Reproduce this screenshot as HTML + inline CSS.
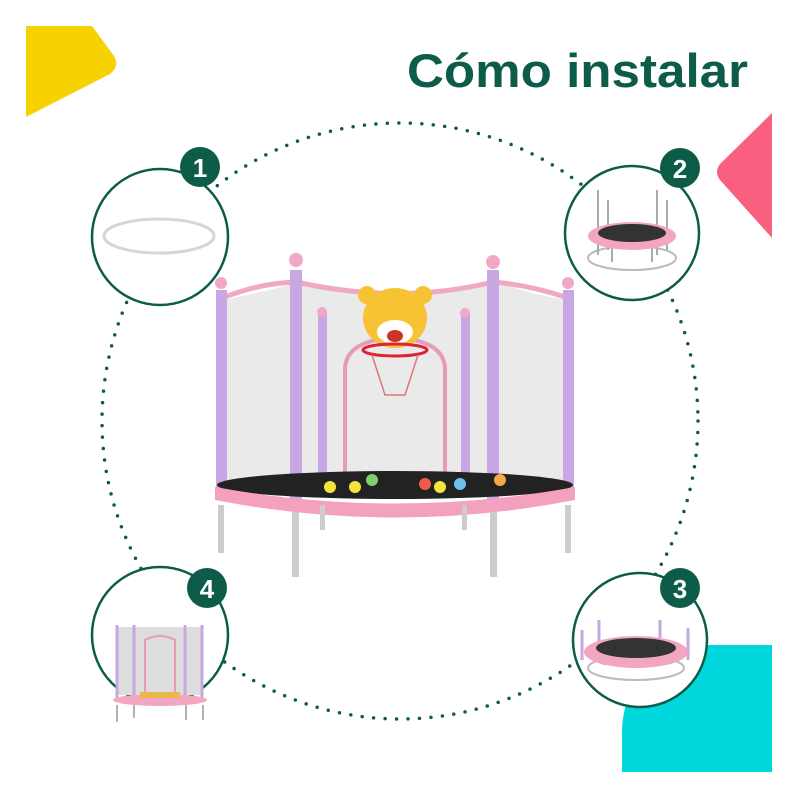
<!DOCTYPE html>
<html><head><meta charset="utf-8"><style>
html,body{margin:0;padding:0;background:#fff;width:800px;height:800px;overflow:hidden}
svg{display:block}
</style></head><body>
<svg width="800" height="800" viewBox="0 0 800 800" xmlns="http://www.w3.org/2000/svg">
<rect width="800" height="800" fill="#fff"/>
<!-- decorative shapes -->
<path d="M26 26 L92 26 L114 56 Q120 66 110 74 L26 117 Z" fill="#f7d200"/>
<path d="M772 113 L772 238 L720 180 Q714 172 720 164 Z" fill="#f9607f"/>
<path d="M622 772 V732 C622 682 660 645 708 645 H772 V772 Z" fill="#00d7dd"/>
<!-- title -->
<text x="407" y="87" textLength="341" lengthAdjust="spacingAndGlyphs" font-family="Liberation Sans, sans-serif" font-weight="bold" font-size="47" fill="#0d5c4a">Cómo instalar</text>
<!-- dotted circle -->
<circle cx="400" cy="421" r="298" fill="none" stroke="#0d5c4a" stroke-width="3.5" stroke-dasharray="0 11.5" stroke-linecap="round"/>
<!-- small circles -->
<g fill="#fff" stroke="#0d5c4a" stroke-width="2.5">
<circle cx="160" cy="237" r="68"/>
<circle cx="632" cy="233" r="67"/>
<circle cx="160" cy="635" r="68"/>
<circle cx="640" cy="640" r="67"/>
</g>
<!-- ring in circle 1 -->
<ellipse cx="159" cy="236" rx="55" ry="17" fill="none" stroke="#d6d6d6" stroke-width="3"/>
<!-- circle 2 trampoline -->
<g>
<ellipse cx="632" cy="258" rx="44" ry="12" fill="none" stroke="#bbb" stroke-width="2"/>
<g stroke="#aaa" stroke-width="2"><line x1="598" y1="190" x2="598" y2="255"/><line x1="608" y1="200" x2="608" y2="250"/><line x1="657" y1="190" x2="657" y2="255"/><line x1="667" y1="200" x2="667" y2="250"/><line x1="612" y1="248" x2="612" y2="262"/><line x1="652" y1="248" x2="652" y2="262"/></g>
<ellipse cx="632" cy="236" rx="44" ry="14" fill="#f2a6c2"/>
<ellipse cx="632" cy="233" rx="34" ry="9" fill="#333"/>
</g>
<!-- circle 3 trampoline -->
<g>
<ellipse cx="636" cy="668" rx="48" ry="12" fill="none" stroke="#bbb" stroke-width="2"/>
<g stroke="#c6a8e0" stroke-width="3"><line x1="582" y1="630" x2="582" y2="660"/><line x1="599" y1="620" x2="599" y2="645"/><line x1="660" y1="620" x2="660" y2="645"/><line x1="688" y1="628" x2="688" y2="660"/><line x1="604" y1="640" x2="604" y2="665"/><line x1="665" y1="640" x2="665" y2="665"/></g>
<ellipse cx="636" cy="652" rx="52" ry="16" fill="#f2a6c2"/>
<ellipse cx="636" cy="648" rx="40" ry="10" fill="#333"/>
</g>
<!-- circle 4 trampoline -->
<g>
<rect x="117" y="627" width="85" height="68" fill="#ddd"/>
<g stroke="#c6a8e0" stroke-width="3"><line x1="117" y1="625" x2="117" y2="700"/><line x1="134" y1="625" x2="134" y2="700"/><line x1="185" y1="625" x2="185" y2="700"/><line x1="202" y1="625" x2="202" y2="700"/></g>
<path d="M145 700 V640 Q160 632 175 640 V700" fill="none" stroke="#e79bb7" stroke-width="2"/>
<ellipse cx="160" cy="700" rx="47" ry="6" fill="#f2a6c2"/>
<rect x="140" y="692" width="40" height="6" fill="#e6b94a"/>
<g stroke="#999" stroke-width="1.5"><line x1="117" y1="705" x2="117" y2="722"/><line x1="134" y1="705" x2="134" y2="718"/><line x1="186" y1="705" x2="186" y2="720"/><line x1="203" y1="705" x2="203" y2="720"/></g>
</g>
<!-- badges -->
<g fill="#0d5c4a">
<circle cx="200" cy="167" r="20"/><circle cx="680" cy="168" r="20"/><circle cx="680" cy="588" r="20"/><circle cx="207" cy="588" r="20"/>
</g>
<g font-family="Liberation Sans, sans-serif" font-weight="bold" font-size="26" fill="#fff" text-anchor="middle">
<text x="200" y="177">1</text><text x="680" y="178">2</text><text x="680" y="598">3</text><text x="207" y="598">4</text>
</g>
<!-- main trampoline -->
<g>
<path d="M222 300 Q300 285 296 280 Q400 305 493 280 Q530 295 568 300 L568 490 L222 490 Z" fill="#eaeaea"/>
<path d="M222 298 Q260 283 296 282 Q400 305 493 282 Q530 285 568 298" fill="none" stroke="#f0a8c6" stroke-width="5"/>
<g fill="#c9a6e4">
<rect x="216" y="290" width="11" height="210"/><rect x="290" y="270" width="12" height="240"/><rect x="487" y="270" width="12" height="240"/><rect x="563" y="290" width="11" height="210"/>
<rect x="318" y="312" width="9" height="180"/><rect x="461" y="312" width="9" height="180"/>
</g>
<g fill="#f0a8c6"><circle cx="221" cy="283" r="6"/><circle cx="296" cy="260" r="7"/><circle cx="493" cy="262" r="7"/><circle cx="568" cy="283" r="6"/><circle cx="322" cy="312" r="5"/><circle cx="465" cy="313" r="5"/></g>
<path d="M345 490 V370 Q345 340 395 338 Q445 340 445 370 V490" fill="none" stroke="#e79bb7" stroke-width="4"/>
<ellipse cx="395" cy="485" rx="178" ry="14" fill="#222"/>
<path d="M215 487 Q395 520 575 487 L575 500 Q395 535 215 500 Z" fill="#f4a0bf"/>
<g><circle cx="330" cy="487" r="6" fill="#f4e340"/><circle cx="355" cy="487" r="6" fill="#f4e340"/><circle cx="372" cy="480" r="6" fill="#7ad36a"/><circle cx="425" cy="484" r="6" fill="#f15a4a"/><circle cx="440" cy="487" r="6" fill="#f4e340"/><circle cx="460" cy="484" r="6" fill="#6cc3e8"/><circle cx="500" cy="480" r="6" fill="#f4a94a"/></g>
<g fill="#ccc"><rect x="218" y="505" width="6" height="48"/><rect x="292" y="512" width="7" height="65"/><rect x="490" y="512" width="7" height="65"/><rect x="565" y="505" width="6" height="48"/><rect x="320" y="505" width="5" height="25"/><rect x="462" y="505" width="5" height="25"/></g>
<!-- tiger -->
<ellipse cx="395" cy="318" rx="32" ry="30" fill="#f7c234"/>
<circle cx="367" cy="295" r="9" fill="#f7c234"/><circle cx="423" cy="295" r="9" fill="#f7c234"/>
<ellipse cx="395" cy="332" rx="18" ry="12" fill="#fff"/>
<ellipse cx="395" cy="336" rx="8" ry="6" fill="#c32"/>
<ellipse cx="395" cy="350" rx="32" ry="6" fill="none" stroke="#d23" stroke-width="3"/>
<path d="M372 355 L385 395 L405 395 L418 355" fill="none" stroke="#d77" stroke-width="1.5"/>
</g>
</svg>
</body></html>
